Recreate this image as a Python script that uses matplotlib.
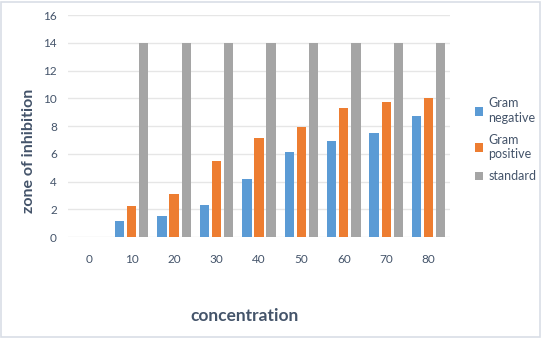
import matplotlib.pyplot as plt
import numpy as np

# Data
concentration = ['0', '10', '20', '30', '40', '50', '60', '70', '80']
gram_negative = [0, 1.15, 1.5, 2.3, 4.2, 6.1, 6.9, 7.5, 8.7]
gram_positive = [0, 2.2, 3.1, 5.5, 7.1, 7.9, 9.3, 9.7, 10.0]
standard = [0, 14, 14, 14, 14, 14, 14, 14, 14]

plt.rcParams['font.family'] = ['Lato', 'DejaVu Sans']
plt.rcParams['text.color'] = '#44546A'
text_col = '#44546A'

fig = plt.figure(figsize=(5.42, 3.38), dpi=100)
ax = fig.add_axes([0.1255, 0.2988, 0.7045, 0.6568])

x = np.arange(len(concentration))
w = 0.22
off = 0.285
ax.bar(x - off, gram_negative, w, color='#5B9BD5', label='Gram\nnegative')
ax.bar(x, gram_positive, w, color='#ED7D31', label='Gram\npositive')
ax.bar(x + off, standard, w, color='#A5A5A5', label='standard')

ax.set_xlim(-0.5, len(concentration) - 0.5)
ax.set_ylim(0, 16)
ax.set_yticks(range(0, 17, 2))
ax.set_xticks(x)
ax.set_xticklabels(concentration)
ax.grid(axis='y', color='#E6E6E6', linewidth=1)
ax.set_axisbelow(True)
for s in ax.spines.values():
    s.set_visible(False)
ax.tick_params(length=0, colors=text_col, labelsize=8.5)
ax.tick_params(axis='x', pad=12)
ax.tick_params(axis='y', pad=8)

ax.set_xlabel('concentration', fontsize=12.5, fontweight='bold', color=text_col)
ax.set_ylabel('zone of inhibition', fontsize=11.5, fontweight='bold', color=text_col)
ax.xaxis.set_label_coords(0.463, -0.318)
ax.yaxis.set_label_coords(-0.085, 0.39)

leg = fig.legend(loc='center left', bbox_to_anchor=(0.855, 0.586), frameon=False,
                 fontsize=9, labelcolor=text_col, handlelength=0.7, handleheight=0.7,
                 handletextpad=0.4, labelspacing=0.8)
for t in leg.get_texts():
    t.set_linespacing(1.25)

# thin frame around the figure
fig.patches.append(plt.Rectangle((0.002, 0.004), 0.994, 0.99, transform=fig.transFigure,
                                 fill=False, edgecolor='#D9DEE6', linewidth=1.2))

fig.savefig('out.png', dpi=100)
